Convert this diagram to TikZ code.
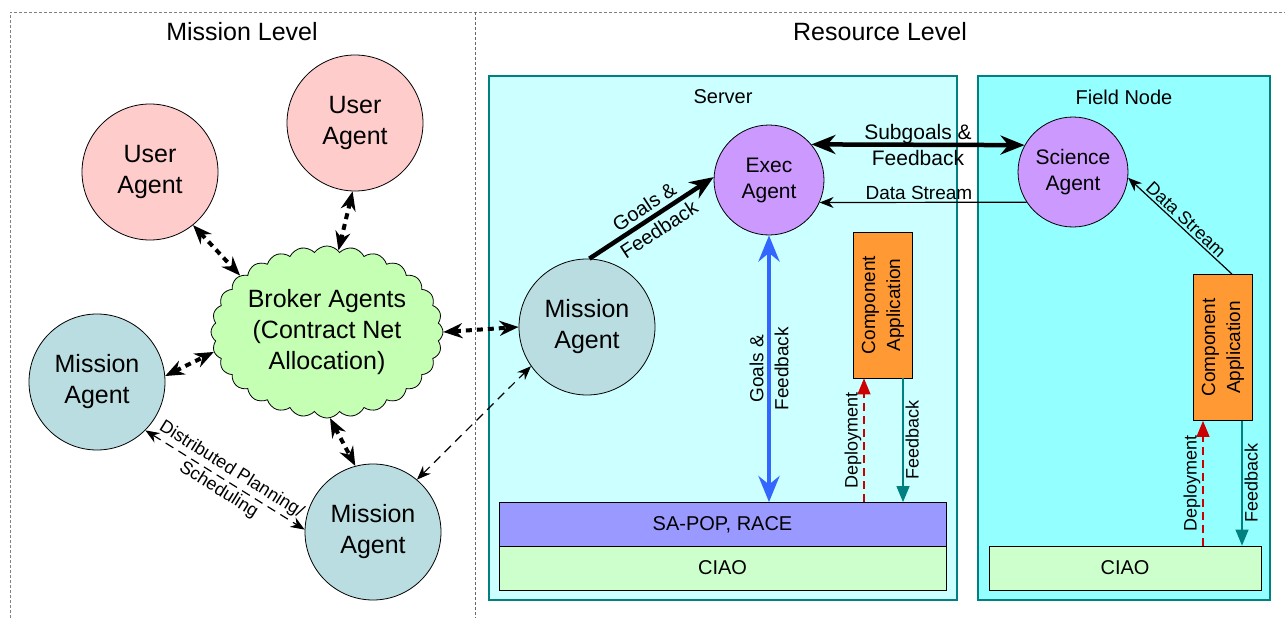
\documentclass[tikz,border=0pt]{standalone}
\usepackage{fontspec}
\setmainfont{Liberation Sans}
\usetikzlibrary{arrows.meta,shapes.symbols,calc}
\definecolor{pinkc}{HTML}{FFCCCC}
\definecolor{missc}{HTML}{B9DDE0}
\definecolor{execc}{HTML}{CC99FF}
\definecolor{cloudc}{HTML}{C4FFB4}
\definecolor{servc}{HTML}{CCFFFF}
\definecolor{fieldc}{HTML}{94FFFF}
\definecolor{tealc}{HTML}{008080}
\definecolor{sapc}{HTML}{9999FF}
\definecolor{ciaoc}{HTML}{CCFFCC}
\definecolor{orc}{HTML}{FF9933}
\definecolor{bluec}{HTML}{3366FF}
\definecolor{redc}{HTML}{CC0000}
\begin{document}
\begin{tikzpicture}[x=1pt,y=-1pt,
  agent/.style={circle, draw, line width=0.8pt, minimum size=136pt, inner sep=0pt, align=center, font=\fontsize{25}{31}\selectfont},
  user/.style={agent, fill=pinkc},
  mission/.style={agent, fill=missc},
  smallagent/.style={circle, draw, line width=0.8pt, minimum size=110pt, inner sep=0pt, fill=execc, align=center, font=\fontsize{21}{26}\selectfont},
  region/.style={draw=tealc, line width=2.5pt, minimum width=#1, minimum height=524pt, inner sep=0pt},
  layer/.style={draw, line width=0.8pt, minimum height=44pt, inner sep=0pt, font=\fontsize{20}{24}\selectfont},
  comp/.style={draw, line width=0.8pt, fill=orc, minimum width=59pt, minimum height=146pt, inner sep=0pt, font=\fontsize{19}{25}\selectfont},
  dotarrow/.style={line width=4pt, dash pattern=on 6pt off 5pt, {Stealth[length=19pt,width=15pt]}-{Stealth[length=19pt,width=15pt]}},
  thindash/.style={line width=1.2pt, dash pattern=on 9pt off 6pt, {Stealth[length=14pt,width=11pt]}-{Stealth[length=14pt,width=11pt]}},
  bigarrow/.style={line width=4.5pt, -{Stealth[length=24pt,width=19pt]}},
  thinarrow/.style={line width=1.2pt, -{Stealth[length=14pt,width=11pt]}},
  deparrow/.style={line width=1.2pt, redc, dash pattern=on 8pt off 5pt, -{Triangle[length=16pt,width=13pt]}},
  fbarrow/.style={line width=1.2pt, tealc, -{Triangle[length=16pt,width=13pt]}},
  lab/.style={font=\fontsize{18}{22}\selectfont, inner sep=2pt, text=black},
  title/.style={font=\fontsize{25}{30}\selectfont}
]
\useasboundingbox (0,0) rectangle (1285,618);
% frame
\draw[gray, line width=0.6pt, dash pattern=on 3pt off 2pt] (10,618) -- (10,12) -- (1290,12);
\draw[gray!80!black, line width=0.6pt, dash pattern=on 3pt off 2pt] (475,12) -- (475,618);
\node[title] (tm) at (242,32) {Mission Level};
\node[title] (tr) at (880,32) {Resource Level};
% regions
\node[region=468pt, fill=servc] (server) at (723,338) {};
\node[region=292pt, fill=fieldc] (field) at (1124,338) {};
\node[font=\fontsize{20}{24}\selectfont] (servl) at (723,97) {Server};
\node[font=\fontsize{20}{24}\selectfont] (fieldl) at (1124,97) {Field Node};
% layers
\node[layer, fill=sapc, minimum width=447pt] (sapop) at (722.5,524.5) {SA-POP, RACE};
\node[layer, fill=ciaoc, minimum width=447pt] (ciao) at (722.5,568) {CIAO};
\node[layer, fill=ciaoc, minimum width=272pt] (fciao) at (1125,568) {CIAO};
% components
\node[comp] (comp) at (882.5,305) {\rotatebox{90}{\begin{tabular}{@{}c@{}}Component\\Application\end{tabular}}};
\node[comp] (fcomp) at (1222.5,347.5) {\rotatebox{90}{\begin{tabular}{@{}c@{}}Component\\Application\end{tabular}}};
% agents
\node[user] (ua1) at (150,172) {User\\Agent};
\node[user] (ua2) at (355,123) {User\\Agent};
\node[mission] (ml) at (97,382) {Mission\\Agent};
\node[mission] (mb) at (373,532) {Mission\\Agent};
\node[mission] (ms) at (587,327) {Mission\\Agent};
\node[smallagent] (exec) at (769,180) {Exec\\Agent};
\node[smallagent] (sci) at (1073,172) {Science\\Agent};
\node[cloud, cloud puffs=28, cloud puff arc=110, aspect=1.4, draw, line width=0.8pt, fill=cloudc, minimum width=215pt, minimum height=160pt, inner sep=0pt, align=center, font=\fontsize{25}{31}\selectfont] (cloud) at (327,332) {Broker Agents\\(Contract Net\\Allocation)};
% mission level connectors
\draw[dotarrow] (ua1.-51) -- (cloud.147);
\draw[dotarrow] (ua2.-92) -- (cloud.82);
\draw[dotarrow] (ml.5) -- (cloud.190);
\draw[dotarrow] (cloud.-88) -- (mb.105);
\draw[dotarrow] (cloud.0) -- (ms.180);
\draw[thindash] (mb.50) -- (ms.215);
\draw[thindash] (ml.-45) -- node[lab, sloped, align=center, font=\fontsize{18}{24}\selectfont] {Distributed Planning/\\Scheduling} (mb.178);
% resource level connectors
\draw[bigarrow] (ms.88) -- node[sloped, align=center, inner sep=0pt, font=\fontsize{20}{27}\selectfont] {Goals \&\\Feedback} (exec.177);
\draw[bigarrow, {Stealth[length=24pt,width=19pt]}-{Stealth[length=24pt,width=19pt]}] (exec.40) -- node[align=center, inner sep=0pt, font=\fontsize{21}{26}\selectfont] {Subgoals \&\\Feedback} (sci.151);
\draw[thinarrow] (sci.213) -- node[above, lab, font=\fontsize{19}{22}\selectfont, pos=0.52] {Data Stream} (exec.-24);
\draw[bigarrow, bluec, {Stealth[length=26pt,width=21pt]}-{Stealth[length=26pt,width=21pt]}] (exec.south) -- node[rotate=90, align=center, inner sep=0pt, text=black, font=\fontsize{19}{25}\selectfont] {Goals \&\\Feedback} (exec.south |- sapop.north);
\coordinate (d1) at (864,400);
\coordinate (f1) at (903,400);
\draw[deparrow] (d1 |- sapop.north) -- node[rotate=90, anchor=south, lab] {Deployment} (d1 |- comp.south);
\draw[fbarrow] (f1 |- comp.south) -- node[rotate=90, anchor=north, lab] {Feedback} (f1 |- sapop.north);
\coordinate (d2) at (1203,400);
\coordinate (f2) at (1242,400);
\coordinate (s2) at (1232,400);
\draw[deparrow] (d2 |- fciao.north) -- node[rotate=90, anchor=south, lab] {Deployment} (d2 |- fcomp.south);
\draw[fbarrow] (f2 |- fcomp.south) -- node[rotate=90, anchor=north, lab] {Feedback} (f2 |- fciao.north);
\draw[thinarrow] (s2 |- fcomp.north) -- node[sloped, above, lab] {Data Stream} (sci.-6);
\end{tikzpicture}
\end{document}
